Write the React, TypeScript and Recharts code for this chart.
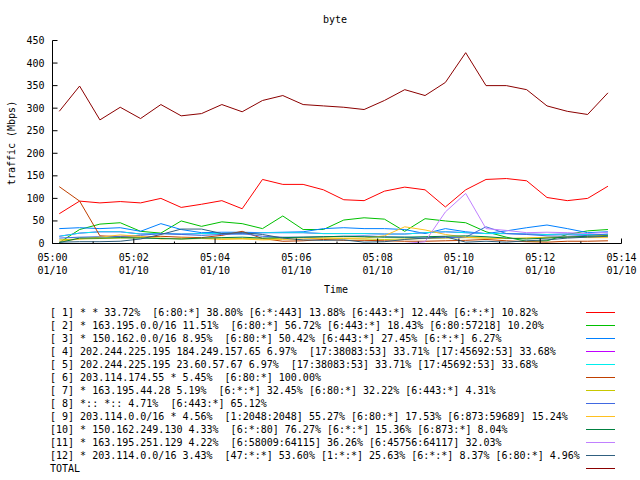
import { LineChart, Line, XAxis, YAxis, Legend } from "recharts";

const times = [
  "05:00:10", "05:00:40", "05:01:10", "05:01:40", "05:02:10", "05:02:40", "05:03:10",
  "05:03:40", "05:04:10", "05:04:40", "05:05:10", "05:05:40", "05:06:10", "05:06:40",
  "05:07:10", "05:07:40", "05:08:10", "05:08:40", "05:09:10", "05:09:40", "05:10:10",
  "05:10:40", "05:11:10", "05:11:40", "05:12:10", "05:12:40", "05:13:10", "05:13:40",
];

// Mbps per sample
const s1 = [66, 94, 90, 93, 90, 100, 80, 87, 95, 77, 142, 131, 131, 119, 97, 95, 116, 125, 119, 81, 119, 142, 144, 139, 102, 95, 100, 127];
const s2 = [2, 31, 43, 46, 27, 23, 50, 38, 48, 44, 33, 61, 31, 31, 52, 57, 54, 27, 55, 50, 46, 26, 14, 5, 6, 20, 28, 31];
const s3 = [33, 35, 33, 35, 27, 44, 31, 24, 25, 25, 24, 25, 26, 33, 35, 33, 33, 31, 22, 33, 26, 22, 28, 35, 41, 33, 24, 26];
const s4 = [16, 23, 26, 26, 21, 22, 21, 22, 22, 21, 24, 24, 24, 22, 22, 22, 21, 21, 24, 26, 24, 22, 22, 21, 20, 21, 20, 20];
const s5 = [16, 23, 26, 26, 21, 22, 21, 22, 22, 21, 24, 24, 24, 22, 22, 22, 21, 21, 24, 26, 24, 22, 22, 21, 20, 21, 20, 20];
const s6 = [126, 94, 17, 15, 14, 16, 14, 13, 18, 27, 11, 5, 6, 9, 7, 7, 6, 5, 5, 6, 7, 9, 6, 4, 3, 5, 5, 6];
const s7 = [8, 10, 11, 12, 13, 12, 10, 11, 12, 11, 10, 12, 13, 12, 11, 10, 9, 10, 11, 12, 13, 12, 11, 12, 14, 15, 16, 18];
const s8 = [12, 14, 15, 16, 18, 22, 20, 18, 20, 22, 16, 14, 14, 15, 16, 17, 15, 14, 12, 13, 14, 37, 22, 20, 17, 16, 18, 21];
const s9 = [5, 10, 14, 19, 16, 10, 12, 11, 9, 10, 8, 9, 10, 12, 12, 12, 17, 37, 30, 20, 14, 12, 11, 12, 13, 14, 13, 13];
const s10 = [2, 12, 12, 13, 12, 11, 10, 12, 13, 14, 12, 13, 14, 15, 16, 15, 14, 14, 15, 16, 17, 15, 12, 10, 12, 14, 16, 17];
const s11 = [0, 0, 0, 0, 0, 0, 0, 0, 0, 0, 0, 0, 0, 0, 0, 0, 0, 0, 4, 70, 111, 33, 29, 24, 25, 24, 22, 25];
const s12 = [3, 4, 4, 5, 10, 20, 32, 32, 22, 24, 20, 12, 8, 7, 8, 3, 4, 9, 12, 15, 3, 5, 3, 6, 8, 12, 14, 16];
const total = [293, 349, 274, 302, 277, 308, 283, 288, 308, 292, 317, 328, 308, 305, 302, 297, 317, 341, 328, 357, 423, 350, 350, 341, 305, 293, 286, 334];

const labels = [
  "[ 1] * * 33.72%  [6:80:*] 38.80% [6:*:443] 13.88% [6:443:*] 12.44% [6:*:*] 10.82%",
  "[ 2] * 163.195.0.0/16 11.51%  [6:80:*] 56.72% [6:443:*] 18.43% [6:80:57218] 10.20%",
  "[ 3] * 150.162.0.0/16 8.95%  [6:80:*] 50.42% [6:443:*] 27.45% [6:*:*] 6.27%",
  "[ 4] 202.244.225.195 184.249.157.65 6.97%  [17:38083:53] 33.71% [17:45692:53] 33.68%",
  "[ 5] 202.244.225.195 23.60.57.67 6.97%  [17:38083:53] 33.71% [17:45692:53] 33.68%",
  "[ 6] 203.114.174.55 * 5.45%  [6:80:*] 100.00%",
  "[ 7] * 163.195.44.28 5.19%  [6:*:*] 32.45% [6:80:*] 32.22% [6:443:*] 4.31%",
  "[ 8] *:: *:: 4.71%  [6:443:*] 65.12%",
  "[ 9] 203.114.0.0/16 * 4.56%  [1:2048:2048] 55.27% [6:80:*] 17.53% [6:873:59689] 15.24%",
  "[10] * 150.162.249.130 4.33%  [6:*:80] 76.27% [6:*:*] 15.36% [6:873:*] 8.04%",
  "[11] * 163.195.251.129 4.22%  [6:58009:64115] 36.26% [6:45756:64117] 32.03%",
  "[12] * 203.114.0.0/16 3.43%  [47:*:*] 53.60% [1:*:*] 25.63% [6:*:*] 8.37% [6:80:*] 4.96%",
  "TOTAL",
];

const colors = [
  "#ff0000", "#00c000", "#0080ff", "#c000ff", "#00eeee", "#c04000", "#c8c800",
  "#4169e1", "#ffc020", "#008040", "#c080ff", "#306080", "#8b0000",
];

const series = [s1, s2, s3, s4, s5, s6, s7, s8, s9, s10, s11, s12, total];

// seconds after 05:00
const minuteTicks = [0, 60, 120, 180, 240, 300, 360, 420, 480, 540, 600, 660, 720, 780, 840];
const timeLabels = ["05:00", "05:02", "05:04", "05:06", "05:08", "05:10", "05:12", "05:14"];
const dateLabel = "01/10";
const yTicks = [0, 50, 100, 150, 200, 250, 300, 350, 400, 450];

const FONT = "'DejaVu Sans Mono', monospace";

function toSec(s: string): number {
  const [h, m, sec] = s.split(":").map(Number);
  return (h - 5) * 3600 + m * 60 + sec;
}

const data = times.map((t, i) => {
  const row: Record<string, number> = { t: toSec(t) };
  series.forEach((s, k) => {
    row["k" + k] = s[i];
  });
  return row;
});

function BottomTick(props: any) {
  const { x, y, payload } = props;
  const v = payload.value as number;
  const major = v % 120 === 0;
  return (
    <g>
      <line x1={x} y1={y} x2={x} y2={y - (major ? 5 : 2)} stroke="#000" />
      {major && (
        <text fontFamily={FONT} fontSize={10} fill="#000" textAnchor="middle">
          <tspan x={x} y={y + 17}>{timeLabels[v / 120]}</tspan>
          <tspan x={x} y={y + 30}>{dateLabel}</tspan>
        </text>
      )}
    </g>
  );
}

function TopTick(props: any) {
  const { x, y, payload } = props;
  const major = (payload.value as number) % 120 === 0;
  return <line x1={x} y1={y} x2={x} y2={y + (major ? 5 : 2)} stroke="#000" />;
}

function LeftTick(props: any) {
  const { x, y, payload } = props;
  return (
    <g>
      <line x1={x} y1={y} x2={x + 5} y2={y} stroke="#000" />
      <text x={x - 8} y={y + 3.5} fontFamily={FONT} fontSize={10} fill="#000" textAnchor="end">
        {payload.value}
      </text>
    </g>
  );
}

function RightTick(props: any) {
  const { x, y } = props;
  return <line x1={x} y1={y} x2={x - 5} y2={y} stroke="#000" />;
}

// key drawn in series order, straight from labels/colors
function KeyBox() {
  return (
    <svg width={640} height={175} style={{ display: "block" }}>
      {labels.map((label, i) => (
        <g key={i}>
          <text
            x={50}
            y={12 + 13 * i}
            dominantBaseline="central"
            fontFamily={FONT}
            fontSize={10}
            fill="#000"
            style={{ whiteSpace: "pre" }}
          >
            {label}
          </text>
          <line x1={586} x2={615} y1={12.5 + 13 * i} y2={12.5 + 13 * i} stroke={colors[i]} />
        </g>
      ))}
    </svg>
  );
}

export default function App() {
  return (
    <div style={{ position: "absolute", left: 0, top: 0, background: "#fff" }}>
      <LineChart
        width={640}
        height={480}
        data={data}
        margin={{ top: 40.5, right: 18.5, bottom: 186.5, left: 0.5 }}
      >
        <text x={335} y={23} textAnchor="middle" fontFamily={FONT} fontSize={10} fill="#000">
          byte
        </text>
        <text
          x={11}
          y={143}
          transform="rotate(-90 11 143)"
          textAnchor="middle"
          dominantBaseline="central"
          fontFamily={FONT}
          fontSize={10}
          fill="#000"
        >
          traffic (Mbps)
        </text>
        <text x={336} y={292.5} textAnchor="middle" fontFamily={FONT} fontSize={10} fill="#000">
          Time
        </text>
        <XAxis
          dataKey="t"
          type="number"
          domain={[0, 840]}
          ticks={minuteTicks}
          interval={0}
          height={50}
          tickSize={0}
          tickMargin={0}
          tickLine={false}
          axisLine={{ stroke: "#000" }}
          tick={<BottomTick />}
        />
        <XAxis
          xAxisId="top"
          orientation="top"
          dataKey="t"
          type="number"
          domain={[0, 840]}
          ticks={minuteTicks}
          interval={0}
          height={0}
          tickSize={0}
          tickMargin={0}
          tickLine={false}
          axisLine={{ stroke: "#000" }}
          tick={<TopTick />}
        />
        <YAxis
          type="number"
          domain={[0, 450]}
          ticks={yTicks}
          interval={0}
          width={52}
          tickSize={0}
          tickMargin={0}
          tickLine={false}
          axisLine={{ stroke: "#000" }}
          tick={<LeftTick />}
        />
        <YAxis
          yAxisId="r"
          orientation="right"
          type="number"
          domain={[0, 450]}
          ticks={yTicks}
          interval={0}
          width={0}
          tickSize={0}
          tickMargin={0}
          tickLine={false}
          axisLine={{ stroke: "#000" }}
          tick={<RightTick />}
        />
        {series.map((_, k) => (
          <Line
            key={k}
            type="linear"
            dataKey={"k" + k}
            name={labels[k]}
            stroke={colors[k]}
            strokeWidth={1}
            dot={false}
            activeDot={false}
            isAnimationActive={false}
          />
        ))}
        <Legend
          layout="horizontal"
          verticalAlign="middle"
          align="center"
          content={<KeyBox />}
          wrapperStyle={{ position: "absolute", top: 300, left: 0, width: 640, height: 175, margin: 0, padding: 0 }}
        />
      </LineChart>
    </div>
  );
}
